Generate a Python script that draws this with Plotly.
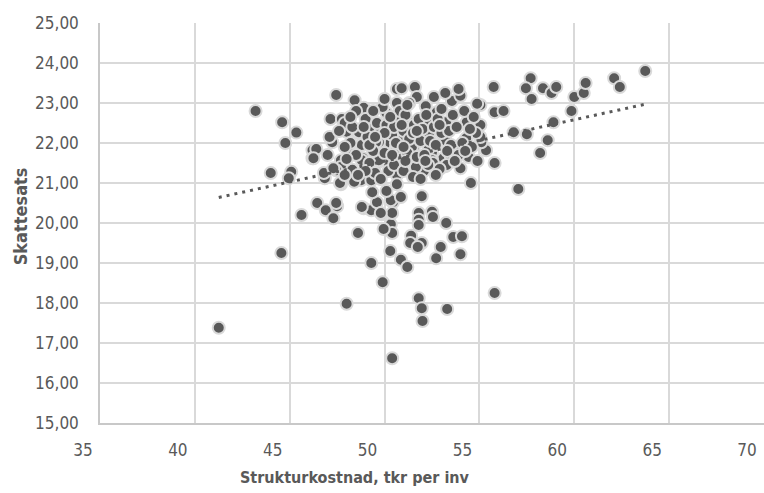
import plotly.graph_objects as go

# --- data ---
struktur_x = [
    41.26, 43.2, 44.0, 45.08, 44.95, 44.6, 45.35, 44.77, 44.56, 45.62,
    46.2, 46.2, 46.45, 46.85, 46.8, 46.9, 47.3, 47.5, 47.7, 47.45,
    48.0, 48.6, 49.3, 49.9, 50.4, 51.8, 51.96, 52.0, 53.3, 55.8,
    50.3, 50.86, 51.2, 51.4, 51.35, 51.96, 51.75, 52.72, 52.96, 53.62,
    54.08, 54.0, 53.25, 52.5, 52.55, 51.8, 51.8, 51.8, 50.33, 50.4,
    49.95, 49.85, 48.9, 49.3, 49.6, 50.44, 50.4, 49.8, 51.96, 50.33,
    50.86, 49.35, 48.8, 54.55, 57.05, 55.8, 55.35, 55.1, 55.05, 55.05,
    55.05, 55.75, 55.8, 56.27, 56.8, 57.5, 57.7, 57.45, 57.75, 58.35,
    58.8, 59.05, 58.9, 58.6, 58.2, 60.0, 59.85, 60.5, 60.6, 62.1,
    62.4, 63.74, 47.45, 48.42, 48.9, 47.15, 47.75, 48.0, 48.6, 47.24,
    48.1, 47.0, 47.7, 48.87, 49.35, 49.2, 47.7, 48.3, 48.76, 49.3,
    50.65, 50.9, 51.6, 51.7, 50.65, 50.1, 52.17, 52.75, 53.55, 54.0,
    53.9, 54.88, 53.25, 52.33, 51.44, 50.76, 54.33, 54.82, 49.8, 50.9,
    52.33, 53.2, 54.3, 50.3, 49.7, 51.55, 52.5, 53.75, 50.86, 53.1,
    54.43, 52.5, 52.07, 53.2, 53.5, 54.0, 50.65, 49.6, 52.55, 53.28,
    47.9, 47.1, 48.8, 49.55, 50.75, 51.55, 50.6, 51.44, 52.33, 51.65,
    47.45, 48.4, 49.3, 50.2, 48.8, 49.7, 47.65, 50.65, 50.4, 48.65,
    47.3, 46.4, 46.25,
    48.2, 48.5, 49.0, 49.1, 49.4, 49.6, 49.9, 50.0, 50.1, 50.2,
    50.5, 50.5, 50.8, 51.0, 51.0, 51.1, 51.2, 51.3, 51.3, 51.5,
    51.7, 51.8, 51.9, 52.0, 52.1, 52.2, 52.4, 52.6, 52.7, 52.8,
    52.9, 53.0, 53.0, 53.4, 53.5, 53.6, 53.8, 53.9, 54.1, 54.2,
    54.5, 54.6, 54.7, 54.9, 48.3, 48.5, 48.9, 49.2, 49.5, 49.8,
    50.1, 49.0, 48.0, 47.9, 48.6, 50.3, 50.6, 51.1, 51.5, 51.9,
    52.3, 52.7, 51.2, 52.6, 53.2, 49.4, 50.0, 48.2, 47.6, 47.9,
    49.2, 50.9, 51.7, 52.15, 53.3, 54.25, 53.7, 52.9, 50.4, 51.0,
    50.0, 49.5,
]
skattesats_y = [
    17.38, 22.8, 21.25, 21.28, 21.12, 22.52, 22.26, 22.0, 19.25, 20.2,
    21.82, 21.62, 20.5, 21.12, 21.25, 20.32, 20.12, 20.42, 20.97, 20.5,
    17.98, 19.75, 19.0, 18.52, 16.62, 18.12, 17.87, 17.55, 17.85, 18.25,
    19.3, 19.08, 18.9, 19.68, 19.5, 19.5, 19.4, 19.12, 19.4, 19.65,
    19.67, 19.22, 20.0, 20.28, 20.15, 20.25, 20.08, 19.95, 19.97, 19.75,
    19.85, 20.22, 20.37, 20.32, 20.52, 20.52, 20.25, 20.25, 20.67, 20.57,
    20.65, 20.77, 20.4, 21.0, 20.85, 21.5, 21.82, 22.02, 22.15, 22.45,
    22.95, 23.4, 22.77, 22.8, 22.27, 22.22, 23.62, 23.37, 23.1, 23.37,
    23.25, 23.4, 22.52, 22.07, 21.75, 23.15, 22.8, 23.25, 23.5, 23.62,
    23.4, 23.8, 23.2, 23.07, 22.88, 22.6, 22.6, 22.28, 22.25, 22.02,
    21.82, 21.7, 21.57, 21.62, 22.02, 22.37, 21.4, 21.33, 21.07, 21.07,
    23.35, 23.37, 23.4, 23.15, 23.0, 22.75, 22.92, 22.77, 23.05, 23.18,
    23.35, 22.98, 22.52, 22.5, 22.5, 22.57, 22.52, 22.25, 22.32, 22.15,
    22.2, 22.07, 22.12, 22.0, 22.02, 21.9, 21.77, 21.9, 21.62, 21.62,
    21.65, 21.57, 21.3, 21.42, 21.65, 21.37, 21.2, 21.5, 21.5, 21.45,
    22.5, 22.15, 21.95, 22.02, 22.15, 22.45, 21.87, 21.9, 21.87, 21.4,
    21.32, 21.03, 21.32, 21.5, 21.57, 21.57, 21.0, 20.97, 22.2, 22.27,
    21.37, 21.85, 21.62,
    22.0, 21.7, 22.6, 22.15, 21.8, 22.5, 22.9, 21.75, 22.45, 21.3,
    22.4, 21.45, 22.8, 22.3, 21.3, 22.7, 21.75, 22.1, 23.0, 22.25,
    21.65, 22.6, 22.05, 22.35, 21.7, 22.7, 22.05, 22.4, 21.95, 22.6,
    21.35, 22.25, 22.85, 22.3, 21.95, 22.7, 22.4, 21.7, 22.0, 22.8,
    22.35, 21.9, 22.65, 21.55, 22.4, 22.8, 22.4, 21.5, 21.25, 21.1,
    20.8, 21.3, 21.6, 21.2, 21.2, 22.65, 22.0, 21.55, 21.15, 21.1,
    21.45, 21.2, 22.95, 23.15, 23.25, 22.8, 23.1, 22.65, 22.3, 21.9,
    21.95, 22.45, 22.3, 21.55, 21.8, 21.8, 21.55, 22.45, 21.7, 21.9,
    22.25, 22.15,
]

# linear trendline
trend_slope = 0.1037
trend_intercept = 16.36

x_ticks = [35, 40, 45, 50, 55, 60, 65, 70]
y_ticks = [15, 16, 17, 18, 19, 20, 21, 22, 23, 24, 25]
y_tick_labels = ["15,00", "16,00", "17,00", "18,00", "19,00", "20,00",
                 "21,00", "22,00", "23,00", "24,00", "25,00"]

x_title = "Strukturkostnad, tkr per inv"
y_title = "Skattesats"

FONT = "Liberation Sans Narrow, DejaVu Sans Condensed, sans-serif"
GREY = "#595959"

tx = [min(struktur_x), max(struktur_x)]
ty = [trend_intercept + trend_slope * v for v in tx]

fig = go.Figure()
fig.add_trace(go.Scatter(
    x=struktur_x, y=skattesats_y, mode="markers",
    marker=dict(size=12, color=GREY, line=dict(color="#d9d9d9", width=2)),
    showlegend=False, hoverinfo="x+y",
))
fig.add_trace(go.Scatter(
    x=tx, y=ty, mode="lines",
    line=dict(color=GREY, width=3, dash="3px,5px"),
    showlegend=False, hoverinfo="skip",
))

fig.update_layout(
    width=764, height=493,
    margin=dict(l=100, r=0, t=23, b=70),
    paper_bgcolor="white", plot_bgcolor="white",
    font=dict(family=FONT, size=17, color=GREY),
    xaxis=dict(
        range=[35, 70], tickvals=x_ticks, ticktext=[str(v) for v in x_ticks],
        showgrid=True, gridcolor="#d9d9d9", gridwidth=1.5,
        showline=True, linecolor="#c8c8c8", linewidth=1.5,
        zeroline=False, ticks="", ticklabelshift=-17, ticklabelstandoff=11,
        tickfont=dict(family=FONT, size=17, color=GREY),
    ),
    yaxis=dict(
        range=[15, 25], tickvals=y_ticks, ticktext=y_tick_labels,
        showgrid=True, gridcolor="#d9d9d9", gridwidth=1.5,
        showline=True, linecolor="#c8c8c8", linewidth=1.5,
        zeroline=False, ticks="", ticklabelstandoff=16,
        tickfont=dict(family=FONT, size=17, color=GREY),
    ),
    annotations=[
        dict(text="<b>" + x_title + "</b>", xref="paper", yref="paper",
             x=0.384, y=-0.135, xanchor="center", yanchor="middle",
             showarrow=False, font=dict(family=FONT, size=16, color=GREY)),
        dict(text="<b>" + y_title + "</b>", xref="paper", yref="paper",
             x=-0.12, y=0.5175, xanchor="center", yanchor="middle",
             textangle=-90, showarrow=False,
             font=dict(family=FONT, size=18, color=GREY)),
    ],
)

fig.write_html("out.html",
               config={"displayModeBar": False},
               post_script="document.body.style.margin='0';document.body.style.overflow='hidden';")
